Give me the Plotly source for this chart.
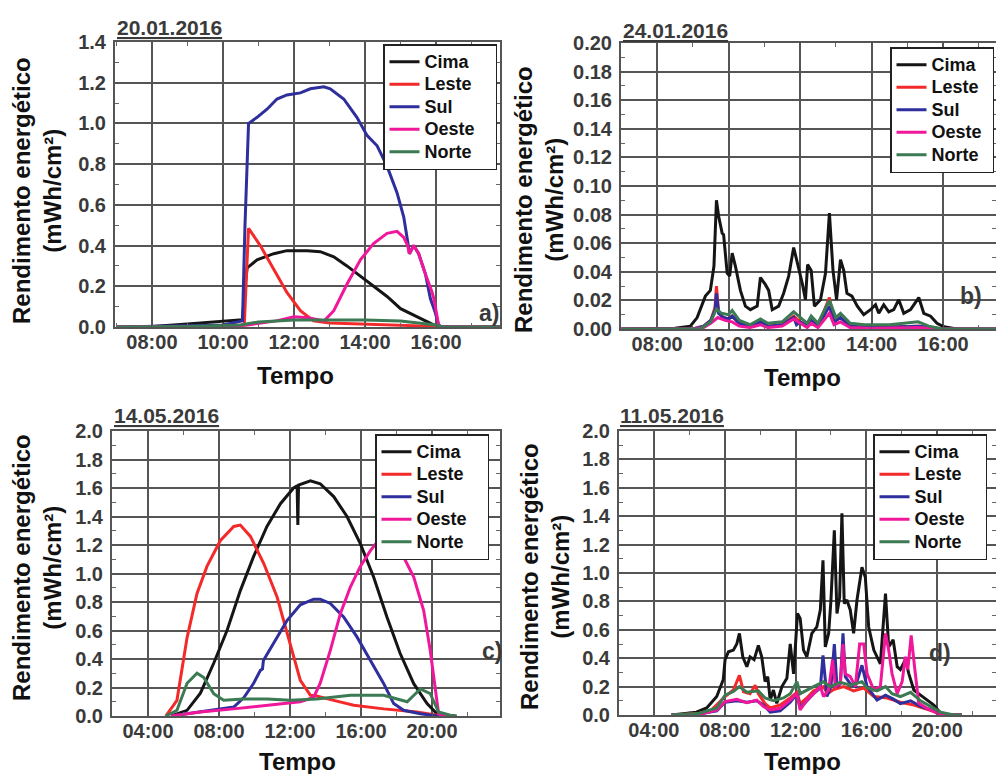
import plotly.graph_objects as go

W, H = 996, 774


def px(x):
    return x / W


def py(y):
    return 1 - y / H


SERIES = ["Cima", "Leste", "Sul", "Oeste", "Norte"]
COLORS = ["#151515", "#f42a2a", "#2e2e9c", "#f0179b", "#3b7a52"]

# ---------------- Panel a) 20.01.2016 (hour, mWh/cm2) ----------------
A_CIMA = [(7.0, 0.0), (8.0, 0.003), (9.0, 0.015), (10.0, 0.03), (10.55, 0.036), (10.62, 0.2),
          (10.68, 0.29), (10.96, 0.33), (11.43, 0.36), (11.8, 0.375), (12.37, 0.375), (12.74, 0.37),
          (13.12, 0.345), (13.49, 0.30), (13.87, 0.25), (14.24, 0.20), (14.62, 0.15), (15.0, 0.09),
          (15.28, 0.067), (15.56, 0.04), (15.93, 0.01), (16.1, 0.0), (17.8, 0.0)]
A_LESTE = [(7.0, 0.0), (10.0, 0.005), (10.6, 0.01), (10.68, 0.3), (10.72, 0.485), (11.05, 0.40),
           (11.43, 0.28), (11.8, 0.17), (12.18, 0.08), (12.55, 0.03), (13.0, 0.02), (14.0, 0.015),
           (15.0, 0.01), (16.0, 0.003), (16.1, 0.0), (17.8, 0.0)]
A_SUL = [(7.0, 0.0), (10.0, 0.01), (10.55, 0.03), (10.62, 0.5), (10.72, 1.0), (10.96, 1.03),
         (11.24, 1.07), (11.52, 1.12), (11.8, 1.14), (12.18, 1.15), (12.46, 1.17), (12.84, 1.18),
         (13.02, 1.17), (13.4, 1.12), (13.77, 1.03), (14.06, 0.94), (14.34, 0.89), (14.62, 0.79),
         (14.9, 0.66), (15.09, 0.54), (15.2, 0.42), (15.25, 0.36), (15.37, 0.40), (15.51, 0.36),
         (15.7, 0.26), (15.84, 0.14), (15.98, 0.07), (16.07, 0.01), (16.15, 0.0), (17.8, 0.0)]
A_OESTE = [(7.0, 0.0), (10.0, 0.002), (10.7, 0.01), (11.5, 0.03), (12.0, 0.05), (12.4, 0.045),
           (12.85, 0.03), (13.12, 0.08), (13.49, 0.21), (13.87, 0.33), (14.24, 0.41), (14.62, 0.46),
           (14.9, 0.47), (15.09, 0.44), (15.2, 0.40), (15.25, 0.36), (15.37, 0.40), (15.51, 0.36),
           (15.7, 0.26), (15.89, 0.17), (15.95, 0.13), (16.07, 0.01), (16.15, 0.0), (17.8, 0.0)]
A_NORTE = [(7.0, 0.0), (9.0, 0.003), (10.5, 0.01), (11.0, 0.025), (12.0, 0.035), (13.0, 0.035),
           (14.0, 0.035), (15.0, 0.03), (15.5, 0.02), (16.0, 0.01), (16.2, 0.0), (17.8, 0.0)]

# ---------------- Panel b) 24.01.2016 ----------------
B_CIMA = [(7.0, 0.0), (8.5, 0.0005), (8.93, 0.002), (9.12, 0.008), (9.35, 0.023), (9.49, 0.027),
          (9.59, 0.044), (9.66, 0.090), (9.72, 0.079), (9.82, 0.067), (9.86, 0.066), (9.96, 0.039),
          (10.03, 0.037), (10.1, 0.053), (10.19, 0.044), (10.33, 0.027), (10.47, 0.016), (10.61, 0.0135),
          (10.8, 0.016), (10.89, 0.036), (11.03, 0.031), (11.12, 0.027), (11.22, 0.0135), (11.4, 0.016),
          (11.54, 0.025), (11.68, 0.037), (11.82, 0.057), (11.93, 0.046), (12.06, 0.032), (12.15, 0.0205),
          (12.21, 0.045), (12.31, 0.041), (12.4, 0.016), (12.57, 0.0205), (12.71, 0.039), (12.82, 0.081),
          (12.92, 0.041), (13.02, 0.0205), (13.13, 0.0485), (13.22, 0.041), (13.31, 0.025), (13.45, 0.023),
          (13.6, 0.016), (13.78, 0.010), (13.97, 0.0135), (14.11, 0.017), (14.2, 0.011), (14.34, 0.017),
          (14.48, 0.012), (14.62, 0.0135), (14.76, 0.0205), (14.9, 0.011), (15.09, 0.0135), (15.32, 0.022),
          (15.46, 0.011), (15.65, 0.009), (15.83, 0.004), (16.02, 0.0015), (16.39, 0.0), (17.48, 0.0)]
B_LESTE = [(7.0, 0.0), (9.0, 0.0), (9.3, 0.002), (9.5, 0.006), (9.62, 0.015), (9.66, 0.030),
           (9.72, 0.012), (9.85, 0.008), (10.0, 0.007), (10.1, 0.009), (10.3, 0.004), (10.6, 0.002),
           (10.89, 0.005), (11.1, 0.002), (11.5, 0.003), (11.82, 0.009), (12.0, 0.005), (12.2, 0.002),
           (12.31, 0.006), (12.5, 0.002), (12.82, 0.022), (12.95, 0.005), (13.13, 0.008), (13.4, 0.002),
           (14.0, 0.001), (15.32, 0.002), (16.0, 0.0), (17.48, 0.0)]
B_SUL = [(7.0, 0.0), (9.0, 0.0), (9.3, 0.002), (9.5, 0.006), (9.62, 0.013), (9.66, 0.025),
         (9.72, 0.011), (9.85, 0.008), (10.0, 0.007), (10.1, 0.009), (10.3, 0.004), (10.6, 0.002),
         (10.89, 0.005), (11.1, 0.002), (11.5, 0.003), (11.82, 0.008), (11.9, 0.003), (12.0, 0.005),
         (12.2, 0.002), (12.31, 0.006), (12.5, 0.002), (12.82, 0.016), (12.95, 0.005), (13.13, 0.008),
         (13.4, 0.002), (14.0, 0.001), (15.32, 0.002), (16.0, 0.0), (17.48, 0.0)]
B_OESTE = [(7.0, 0.0), (9.0, 0.0), (9.3, 0.001), (9.5, 0.004), (9.7, 0.008), (9.9, 0.006),
           (10.1, 0.005), (10.3, 0.002), (10.6, 0.001), (10.89, 0.003), (11.1, 0.001), (11.5, 0.002),
           (11.82, 0.007), (12.0, 0.004), (12.2, 0.001), (12.31, 0.004), (12.5, 0.001), (12.82, 0.011),
           (12.95, 0.003), (13.13, 0.005), (13.4, 0.001), (14.0, 0.0005), (15.32, 0.001), (16.0, 0.0),
           (17.48, 0.0)]
B_NORTE = [(7.0, 0.0), (9.2, 0.0), (9.5, 0.005), (9.66, 0.014), (9.8, 0.011), (10.0, 0.010),
           (10.1, 0.013), (10.3, 0.006), (10.6, 0.003), (10.89, 0.007), (11.1, 0.004), (11.5, 0.005),
           (11.82, 0.012), (12.0, 0.008), (12.2, 0.004), (12.31, 0.009), (12.5, 0.004), (12.82, 0.020),
           (13.0, 0.008), (13.13, 0.011), (13.4, 0.004), (13.8, 0.003), (14.5, 0.003), (15.3, 0.005),
           (15.6, 0.002), (16.0, 0.0), (17.48, 0.0)]

# ---------------- Panel c) 14.05.2016 ----------------
C_CIMA = [(5.3, 0.0), (6.2, 0.04), (6.95, 0.16), (7.7, 0.37), (8.45, 0.60), (9.2, 0.88), (9.95, 1.12),
          (10.7, 1.33), (11.46, 1.49), (12.2, 1.60), (12.4, 1.615), (12.44, 1.34), (12.48, 1.62),
          (12.58, 1.625), (13.15, 1.65), (13.7, 1.63), (14.46, 1.54), (15.21, 1.40), (15.96, 1.21),
          (16.71, 0.975), (17.46, 0.695), (18.2, 0.44), (18.97, 0.227), (19.72, 0.087), (20.28, 0.016),
          (20.5, 0.0), (21.3, 0.0)]
C_LESTE = [(5.0, 0.0), (5.63, 0.11), (6.2, 0.55), (6.76, 0.86), (7.32, 1.05), (8.07, 1.23), (8.83, 1.33),
           (9.2, 1.34), (9.77, 1.26), (10.52, 1.07), (11.27, 0.835), (12.02, 0.51), (12.58, 0.25),
           (13.15, 0.145), (13.5, 0.14), (14.46, 0.11), (15.59, 0.075), (17.28, 0.05), (19.15, 0.028),
           (20.28, 0.005), (20.5, 0.0), (21.3, 0.0)]
C_SUL = [(5.3, 0.0), (6.95, 0.028), (8.83, 0.063), (9.4, 0.13), (9.95, 0.23), (10.33, 0.32),
         (10.45, 0.33), (10.5, 0.39), (11.08, 0.51), (11.83, 0.67), (12.58, 0.78), (13.33, 0.82),
         (13.7, 0.82), (14.27, 0.79), (15.02, 0.695), (15.77, 0.555), (16.53, 0.39), (17.28, 0.227),
         (17.84, 0.087), (18.4, 0.04), (19.34, 0.016), (20.3, 0.0), (21.3, 0.0)]
C_OESTE = [(5.3, 0.0), (6.95, 0.028), (8.83, 0.05), (10.7, 0.075), (12.58, 0.10), (13.33, 0.13),
           (13.7, 0.23), (14.27, 0.46), (14.84, 0.72), (15.4, 0.905), (15.96, 1.05), (16.53, 1.16),
           (16.9, 1.22), (17.5, 1.30), (18.3, 1.14), (18.97, 0.975), (19.53, 0.74), (19.9, 0.46),
           (20.19, 0.18), (20.37, 0.016), (20.5, 0.0), (21.3, 0.0)]
C_NORTE = [(5.0, 0.0), (5.63, 0.04), (6.2, 0.23), (6.76, 0.30), (7.14, 0.27), (7.7, 0.157), (8.26, 0.11),
           (9.4, 0.12), (10.7, 0.12), (12.02, 0.11), (13.5, 0.12), (15.4, 0.145), (17.28, 0.145),
           (18.2, 0.11), (18.6, 0.10), (19.34, 0.19), (19.9, 0.157), (20.37, 0.028), (21.03, 0.005),
           (21.4, 0.0)]

# ---------------- Panel d) 11.05.2016 ----------------
D_CIMA = [(5.0, 0.0), (6.4, 0.02), (6.98, 0.05), (7.55, 0.13), (7.92, 0.25), (8.02, 0.39), (8.21, 0.445),
          (8.49, 0.457), (8.68, 0.50), (8.83, 0.575), (9.02, 0.41), (9.25, 0.34), (9.43, 0.41), (9.66, 0.39),
          (9.9, 0.49), (10.09, 0.41), (10.28, 0.235), (10.43, 0.27), (10.57, 0.105), (10.75, 0.176),
          (10.94, 0.082), (11.23, 0.2), (11.51, 0.258), (11.7, 0.50), (11.89, 0.29), (12.11, 0.715),
          (12.26, 0.68), (12.45, 0.457), (12.64, 0.41), (12.92, 0.575), (13.2, 0.62), (13.4, 0.74),
          (13.55, 1.09), (13.68, 0.48), (13.87, 0.575), (14.0, 0.81), (14.19, 1.30), (14.34, 0.715),
          (14.49, 0.83), (14.62, 1.42), (14.75, 0.785), (14.9, 0.81), (15.09, 0.74), (15.28, 0.575),
          (15.47, 0.81), (15.75, 1.04), (15.94, 0.97), (16.13, 0.62), (16.42, 0.457), (16.79, 0.36),
          (17.08, 0.855), (17.26, 0.48), (17.51, 0.53), (17.74, 0.34), (17.92, 0.32), (18.2, 0.39),
          (18.4, 0.29), (18.68, 0.176), (19.06, 0.14), (19.43, 0.105), (19.81, 0.07), (20.19, 0.012),
          (20.57, 0.0), (21.4, 0.0)]
D_LESTE = [(5.0, 0.0), (6.5, 0.01), (7.2, 0.03), (7.55, 0.07), (8.02, 0.13), (8.49, 0.176), (8.83, 0.28),
           (9.06, 0.164), (9.43, 0.15), (9.72, 0.21), (9.9, 0.15), (10.28, 0.08), (10.57, 0.05),
           (11.13, 0.07), (11.7, 0.12), (12.08, 0.16), (12.26, 0.08), (12.64, 0.12), (13.02, 0.17),
           (13.58, 0.2), (13.8, 0.15), (14.15, 0.18), (14.72, 0.2), (15.28, 0.17), (15.85, 0.19),
           (16.42, 0.13), (17.17, 0.12), (17.92, 0.09), (18.68, 0.07), (19.43, 0.04), (20.19, 0.01),
           (20.6, 0.0), (21.4, 0.0)]
D_SUL = [(5.0, 0.0), (6.5, 0.005), (7.55, 0.03), (8.02, 0.09), (8.68, 0.10), (9.25, 0.09), (9.81, 0.10),
         (10.19, 0.07), (10.57, 0.02), (11.13, 0.03), (11.7, 0.09), (12.08, 0.15), (12.26, 0.05),
         (12.64, 0.1), (13.02, 0.15), (13.4, 0.19), (13.55, 0.42), (13.77, 0.13), (14.0, 0.2),
         (14.19, 0.50), (14.34, 0.2), (14.53, 0.22), (14.68, 0.575), (14.81, 0.27), (15.09, 0.22),
         (15.38, 0.2), (15.75, 0.35), (16.04, 0.2), (16.6, 0.105), (17.08, 0.14), (17.55, 0.11),
         (17.92, 0.08), (18.5, 0.1), (19.06, 0.06), (19.81, 0.03), (20.38, 0.0), (21.4, 0.0)]
D_OESTE = [(5.0, 0.0), (6.6, 0.005), (7.55, 0.035), (8.02, 0.094), (8.68, 0.11), (9.25, 0.087),
           (9.81, 0.105), (10.19, 0.06), (10.57, 0.035), (11.13, 0.047), (11.7, 0.105), (12.08, 0.15),
           (12.26, 0.035), (12.64, 0.105), (13.02, 0.15), (13.4, 0.2), (13.58, 0.13), (13.87, 0.176),
           (14.09, 0.39), (14.25, 0.2), (14.53, 0.223), (14.68, 0.50), (14.81, 0.29), (15.09, 0.27),
           (15.38, 0.2), (15.62, 0.50), (15.85, 0.50), (16.04, 0.29), (16.42, 0.176), (16.79, 0.2),
           (17.08, 0.575), (17.26, 0.457), (17.45, 0.29), (17.74, 0.15), (18.02, 0.235), (18.2, 0.41),
           (18.34, 0.32), (18.53, 0.56), (18.72, 0.34), (18.96, 0.082), (19.43, 0.047), (20.0, 0.012),
           (20.57, 0.0), (21.4, 0.0)]
D_NORTE = [(5.0, 0.0), (6.5, 0.01), (7.55, 0.05), (8.02, 0.14), (8.49, 0.165), (8.83, 0.2), (9.25, 0.16),
           (9.9, 0.17), (10.28, 0.12), (10.75, 0.1), (11.32, 0.12), (11.7, 0.15), (12.08, 0.235),
           (12.26, 0.15), (13.02, 0.2), (13.58, 0.235), (13.96, 0.2), (14.53, 0.23), (15.09, 0.21),
           (15.75, 0.235), (16.04, 0.19), (16.6, 0.17), (17.08, 0.2), (17.45, 0.15), (17.92, 0.13),
           (18.5, 0.16), (19.06, 0.1), (19.62, 0.06), (20.19, 0.02), (20.94, 0.0), (21.4, 0.0)]

# tick values / labels
AB_XTICKS = [8, 10, 12, 14, 16]
AB_XLABELS = ["08:00", "10:00", "12:00", "14:00", "16:00"]
CD_XTICKS = [4, 8, 12, 16, 20]
CD_XLABELS = ["04:00", "08:00", "12:00", "16:00", "20:00"]

DATES = ["20.01.2016", "24.01.2016", "14.05.2016", "11.05.2016"]
LABELS = ["a)", "b)", "c)", "d)"]
Y_TITLE = "Rendimento energético<br>(mWh/cm²)"
X_TITLE = "Tempo"

FONT = "Liberation Sans, Arial, sans-serif"
INK = "#333333"
GRID = "#555555"

PANELS = [
    dict(data=[A_CIMA, A_LESTE, A_SUL, A_OESTE, A_NORTE], box=(115, 42, 500, 327), xr=[6.96, 17.8],
         xt=AB_XTICKS, xl=AB_XLABELS, xminor=1, yr=[0, 1.4], ydt=0.2, yminor=0.1, yfmt=".1f",
         legend=(383, 44), pad=3, ytitle=(37, 191), xtitle=(295, 375), lab=(477, 313), date=(115, 41)),
    dict(data=[B_CIMA, B_LESTE, B_SUL, B_OESTE, B_NORTE], box=(621, 43, 996, 329), xr=[6.99, 17.48],
         xt=AB_XTICKS, xl=AB_XLABELS, xminor=1, yr=[0, 0.2], ydt=0.02, yminor=0.01, yfmt=".2f",
         legend=(890, 47), pad=1, ytitle=(539, 200), xtitle=(802, 377), lab=(958, 296), date=(621, 44)),
    dict(data=[C_CIMA, C_LESTE, C_SUL, C_OESTE, C_NORTE], box=(112, 431, 500, 716), xr=[1.97, 23.83],
         xt=CD_XTICKS, xl=CD_XLABELS, xminor=2, yr=[0, 2.0], ydt=0.2, yminor=0.1, yfmt=".1f",
         legend=(375, 434), pad=3, ytitle=(37, 568), xtitle=(297, 761), lab=(480, 651), date=(112, 429)),
    dict(data=[D_CIMA, D_LESTE, D_SUL, D_OESTE, D_NORTE], box=(619, 431, 996, 715), xr=[2.03, 23.32],
         xt=CD_XTICKS, xl=CD_XLABELS, xminor=2, yr=[0, 2.0], ydt=0.2, yminor=0.1, yfmt=".1f",
         legend=(873, 434), pad=3, ytitle=(545, 577), xtitle=(802, 761), lab=(927, 653), date=(618, 429)),
]

fig = go.Figure()
layout = dict(
    width=W, height=H,
    margin=dict(l=0, r=0, t=0, b=0, autoexpand=False),
    paper_bgcolor="white", plot_bgcolor="white",
    font=dict(family=FONT, color=INK),
    annotations=[],
)

tickfont = dict(family=FONT, size=20, color="#3a3a3a", weight="bold")

for i, p in enumerate(PANELS):
    sfx = "" if i == 0 else str(i + 1)
    lname = "legend" + sfx
    pad = "\u00a0" * p["pad"]
    for name, color, series in zip(SERIES, COLORS, p["data"]):
        fig.add_trace(go.Scatter(
            x=[s[0] for s in series], y=[s[1] for s in series],
            mode="lines", name="<span style='font-size:18px'>" + name + pad + "</span>",
            line=dict(color=color, width=3),
            xaxis="x" + sfx, yaxis="y" + sfx, legend=lname,
        ))
    l, t, r, b = p["box"]
    layout["xaxis" + sfx] = dict(
        domain=[px(l), px(r)], anchor="y" + sfx, range=p["xr"],
        tickmode="array", tickvals=p["xt"], ticktext=p["xl"],
        showgrid=True, gridcolor=GRID, gridwidth=2,
        showline=True, linecolor=GRID, linewidth=2, mirror="allticks",
        ticks="inside", ticklen=5, tickcolor=GRID,
        minor=dict(tickmode="linear", tick0=0, dtick=p["xminor"], ticks="inside", ticklen=4,
                   tickcolor="#666666", showgrid=False),
        tickfont=tickfont, zeroline=False, fixedrange=True, ticklabelstandoff=-4,
    )
    layout["yaxis" + sfx] = dict(
        domain=[py(b), py(t)], anchor="x" + sfx, range=p["yr"],
        tickmode="linear", tick0=0, dtick=p["ydt"], tickformat=p["yfmt"],
        showgrid=True, gridcolor=GRID, gridwidth=2,
        showline=True, linecolor=GRID, linewidth=2, mirror="allticks",
        ticks="inside", ticklen=5, tickcolor=GRID,
        minor=dict(tickmode="linear", tick0=0, dtick=p["yminor"], ticks="inside", ticklen=4,
                   tickcolor="#666666", showgrid=False),
        tickfont=tickfont, zeroline=False, fixedrange=True, ticklabelstandoff=3,
    )
    lx, ly = p["legend"]
    layout[lname] = dict(
        x=px(lx), y=py(ly), xanchor="left", yanchor="top", xref="paper", yref="paper",
        bgcolor="white", bordercolor="#222222", borderwidth=1.5,
        font=dict(family=FONT, size=15, color="#111111", weight="bold"),
        tracegroupgap=0, itemwidth=30,
    )
    ann = layout["annotations"]
    dx, dy = p["date"]
    ann.append(dict(text=DATES[i], x=px(dx), y=py(dy), xref="paper", yref="paper",
                    xanchor="left", yanchor="bottom", showarrow=False,
                    font=dict(family=FONT, size=21, color="#3a3a3a", weight="bold", lineposition="under")))
    tx, ty = p["ytitle"]
    ann.append(dict(text=Y_TITLE, x=px(tx), y=py(ty), xref="paper", yref="paper",
                    xanchor="center", yanchor="middle", textangle=-90, showarrow=False,
                    font=dict(family=FONT, size=24, color="#111111", weight="bold")))
    xx, xy = p["xtitle"]
    ann.append(dict(text=X_TITLE, x=px(xx), y=py(xy), xref="paper", yref="paper",
                    xanchor="center", yanchor="middle", showarrow=False,
                    font=dict(family=FONT, size=24, color="#111111", weight="bold")))
    ax, ay = p["lab"]
    ann.append(dict(text=LABELS[i], x=px(ax), y=py(ay), xref="paper", yref="paper",
                    xanchor="left", yanchor="middle", showarrow=False,
                    font=dict(family=FONT, size=23, color="#3a3a3a", weight="bold")))

fig.update_layout(**layout)
fig.write_html(
    "out.html",
    config={"displayModeBar": False},
    post_script="document.body.style.margin='0px';document.body.style.overflow='hidden';",
)
